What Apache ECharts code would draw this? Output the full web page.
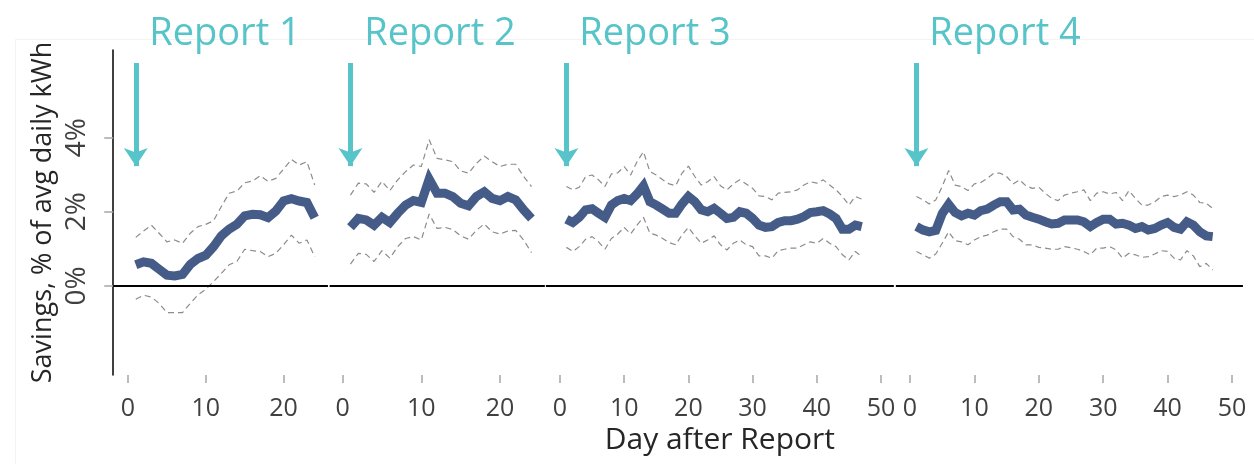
<!DOCTYPE html>
<html>
<head>
<meta charset="utf-8">
<script src="https://cdn.jsdelivr.net/npm/echarts@6/dist/echarts.min.js"></script>
<style>
  html, body { margin: 0; padding: 0; background: #fff; }
  #chart { width: 1254px; height: 464px; }
</style>
</head>
<body>
<div id="chart"></div>
<script>
// data (savings, % of avg daily kWh)
const reportNames = ['Report 1', 'Report 2', 'Report 3', 'Report 4']
const xTicksShort = [0, 10, 20]
const xTicksLong = [0, 10, 20, 30, 40, 50]
const yTicks = [0, 2, 4]
const reportDay = 1

const daysShort = [1, 2, 3, 4, 5, 6, 7, 8, 9, 10, 11, 12, 13, 14, 15, 16, 17, 18, 19, 20, 21, 22, 23, 24]
const daysLong = [1, 2, 3, 4, 5, 6, 7, 8, 9, 10, 11, 12, 13, 14, 15, 16, 17, 18, 19, 20, 21, 22, 23, 24,
  25, 26, 27, 28, 29, 30, 31, 32, 33, 34, 35, 36, 37, 38, 39, 40, 41, 42, 43, 44, 45, 46, 47]

const mean1 = [0.57, 0.65, 0.61, 0.45, 0.29, 0.27, 0.31, 0.58, 0.74, 0.83, 1.06, 1.35, 1.53, 1.66, 1.89, 1.93, 1.92, 1.84, 2.02, 2.29, 2.35, 2.29, 2.25, 1.84]
const upper1 = [1.31, 1.48, 1.64, 1.42, 1.19, 1.24, 1.15, 1.42, 1.60, 1.66, 1.76, 2.14, 2.50, 2.56, 2.78, 2.83, 2.97, 2.82, 2.90, 3.15, 3.41, 3.26, 3.35, 2.72]
const lower1 = [-0.36, -0.25, -0.30, -0.47, -0.72, -0.72, -0.72, -0.47, -0.24, -0.09, 0.12, 0.34, 0.57, 0.66, 0.99, 0.95, 0.93, 0.79, 0.88, 1.11, 1.37, 1.15, 1.24, 0.79]

const mean2 = [1.58, 1.82, 1.78, 1.64, 1.85, 1.71, 1.96, 2.18, 2.30, 2.25, 2.88, 2.50, 2.50, 2.41, 2.23, 2.16, 2.41, 2.54, 2.36, 2.30, 2.41, 2.32, 2.05, 1.82]
const upper2 = [2.45, 2.77, 2.75, 2.52, 2.82, 2.57, 2.86, 3.08, 3.26, 3.22, 3.94, 3.44, 3.40, 3.35, 3.10, 3.04, 3.30, 3.50, 3.35, 3.22, 3.28, 3.28, 2.95, 2.68]
const lower2 = [0.59, 0.88, 0.85, 0.66, 0.95, 0.75, 1.06, 1.28, 1.33, 1.24, 1.94, 1.55, 1.58, 1.52, 1.35, 1.26, 1.50, 1.67, 1.46, 1.40, 1.48, 1.50, 1.24, 0.90]

const mean3 = [1.80, 1.71, 1.85, 2.05, 2.08, 1.96, 1.85, 2.18, 2.30, 2.36,
  2.30, 2.48, 2.70, 2.27, 2.18, 2.07, 1.96, 1.96, 2.21, 2.41,
  2.27, 2.05, 2.00, 2.09, 1.96, 1.82, 1.85, 2.00, 1.96, 1.82,
  1.64, 1.58, 1.60, 1.71, 1.76, 1.76, 1.80, 1.87, 1.98, 2.00,
  2.03, 1.94, 1.82, 1.53, 1.53, 1.64, 1.60]
const upper3 = [2.68, 2.59, 2.66, 2.95, 2.99, 2.86, 2.68, 3.02, 3.05, 3.22,
  2.99, 3.35, 3.62, 3.08, 2.99, 2.86, 2.75, 2.70, 3.04, 3.23,
  2.95, 2.72, 2.81, 2.95, 2.70, 2.59, 2.75, 2.86, 2.75, 2.63,
  2.43, 2.41, 2.32, 2.50, 2.52, 2.54, 2.59, 2.72, 2.81, 2.77,
  2.86, 2.72, 2.59, 2.41, 2.18, 2.41, 2.34]
const lower3 = [1.04, 0.93, 1.06, 1.26, 1.33, 1.19, 0.99, 1.28, 1.40, 1.58,
  1.40, 1.64, 1.85, 1.42, 1.37, 1.28, 1.17, 1.11, 1.37, 1.58,
  1.35, 1.15, 1.24, 1.35, 1.11, 0.97, 1.15, 1.24, 1.11, 1.06,
  0.81, 0.81, 0.75, 0.95, 0.99, 1.02, 1.02, 1.11, 1.19, 1.15,
  1.28, 1.15, 1.06, 0.84, 0.70, 0.93, 0.79]

const mean4 = [1.60, 1.51, 1.46, 1.50, 1.95, 2.20, 1.98, 1.89, 1.96, 1.91,
  2.03, 2.07, 2.18, 2.27, 2.27, 2.05, 2.07, 1.91, 1.85, 1.80,
  1.73, 1.67, 1.69, 1.78, 1.78, 1.78, 1.73, 1.60, 1.71, 1.80,
  1.80, 1.67, 1.69, 1.64, 1.55, 1.60, 1.51, 1.55, 1.64, 1.71,
  1.58, 1.53, 1.73, 1.64, 1.46, 1.35, 1.33]
const upper4 = [2.41, 2.32, 2.21, 2.32, 2.68, 3.11, 2.72, 2.68, 2.57, 2.75,
  2.79, 2.90, 3.04, 3.04, 2.95, 2.75, 2.86, 2.70, 2.63, 2.66,
  2.50, 2.36, 2.30, 2.45, 2.50, 2.54, 2.59, 2.30, 2.50, 2.54,
  2.48, 2.52, 2.30, 2.57, 2.36, 2.18, 2.18, 2.27, 2.41, 2.45,
  2.41, 2.45, 2.54, 2.45, 2.25, 2.23, 2.09]
const lower4 = [0.93, 0.84, 0.75, 0.86, 1.15, 1.46, 1.22, 1.19, 1.11, 1.24,
  1.33, 1.37, 1.46, 1.53, 1.53, 1.33, 1.26, 1.11, 1.11, 1.04,
  1.02, 0.99, 0.99, 1.06, 1.03, 0.99, 0.93, 0.84, 1.02, 1.02,
  1.06, 0.97, 0.75, 0.88, 0.84, 0.77, 0.79, 0.86, 0.95, 0.93,
  0.75, 0.70, 0.95, 0.81, 0.52, 0.61, 0.43]

const font = "'Open Sans', sans-serif"
const cyan = '#56C4C8'
const navy = '#465C88'

// layout of the four panels: pixel of day 0, px per day, axis range
const yMin = -2.4
const yMax = 6.36
const gridTop = 50
const gridHeight = 325
const panels = [
  { days: daysShort, mean: mean1, upper: upper1, lower: lower1, ticks: xTicksShort, x0: 128, unit: 7.78, min: -1.9, max: 25.7, titleX: 225 },
  { days: daysShort, mean: mean2, upper: upper2, lower: lower2, ticks: xTicksShort, x0: 342.6, unit: 7.87, min: -1.65, max: 25.7, titleX: 440 },
  { days: daysLong, mean: mean3, upper: upper3, lower: lower3, ticks: xTicksLong, x0: 560, unit: 6.42, min: -2.2, max: 52, titleX: 655 },
  { days: daysLong, mean: mean4, upper: upper4, lower: lower4, ticks: xTicksLong, x0: 910, unit: 6.44, min: -2.2, max: 51.7, titleX: 1005 }
]

function pairs(days, vals) {
  return days.map((d, i) => [d, vals[i]])
}

const grid = []
const xAxis = []
const yAxis = []
const series = []
const title = []

panels.forEach((p, i) => {
  grid.push({
    left: p.x0 + p.min * p.unit,
    width: (p.max - p.min) * p.unit,
    top: gridTop,
    height: gridHeight,
    containLabel: false,
    outerBoundsMode: 'none'
  })
  xAxis.push({
    gridIndex: i,
    type: 'value',
    min: p.min,
    max: p.max,
    position: 'bottom',
    name: i === 2 ? 'Day after Report' : '',
    nameLocation: 'middle',
    nameGap: 50,
    nameTextStyle: { fontFamily: font, fontSize: 30, color: '#262626' },
    axisLine: { show: false, onZero: false },
    axisTick: { show: true, customValues: p.ticks, length: 8, lineStyle: { color: '#a6a6a6', width: 1.5 } },
    axisLabel: { customValues: p.ticks, margin: 21, fontFamily: font, fontSize: 25, color: '#404040' },
    splitLine: { show: false }
  })
  yAxis.push({
    gridIndex: i,
    type: 'value',
    min: yMin,
    max: yMax,
    show: i === 0,
    name: i === 0 ? 'Savings, % of avg daily kWh' : '',
    nameLocation: 'middle',
    nameGap: 56,
    nameTextStyle: { fontFamily: font, fontSize: 27, color: '#262626' },
    axisLine: { show: true, onZero: false, lineStyle: { color: '#000', width: 1.5 } },
    axisTick: { show: true, customValues: yTicks, length: 9, lineStyle: { color: '#a6a6a6', width: 1.5 } },
    axisLabel: { customValues: yTicks, rotate: 90, margin: 22, formatter: '{value}%', fontFamily: font, fontSize: 28, color: '#404040' },
    splitLine: { show: false }
  })
  title.push({
    text: reportNames[i],
    left: p.titleX,
    top: 15,
    padding: 0,
    textAlign: 'center',
    textStyle: { fontFamily: font, fontSize: 38, fontWeight: 'normal', color: cyan }
  })

  series.push({
    type: 'line',
    xAxisIndex: i,
    yAxisIndex: i,
    data: pairs(p.days, p.lower),
    symbol: 'none',
    lineStyle: { color: '#8c8c8c', width: 1.2, type: [6, 4] },
    z: 2,
    markLine: {
      silent: true,
      symbol: 'none',
      label: { show: false },
      lineStyle: { color: '#000', width: 2, type: 'solid' },
      data: [{ yAxis: 0 }]
    }
  })
  series.push({
    type: 'line',
    xAxisIndex: i,
    yAxisIndex: i,
    data: pairs(p.days, p.upper),
    symbol: 'none',
    lineStyle: { color: '#8c8c8c', width: 1.2, type: [6, 4] },
    z: 2
  })
  series.push({
    type: 'line',
    xAxisIndex: i,
    yAxisIndex: i,
    data: pairs(p.days, p.mean),
    symbol: 'none',
    lineStyle: { color: navy, width: 9, join: 'miter' },
    z: 3,
    markLine: {
      silent: true,
      symbol: ['none', 'arrow'],
      symbolSize: 18,
      label: { show: false },
      lineStyle: { color: cyan, width: 5, type: 'solid' },
      data: [[{ coord: [reportDay, 6.01] }, { coord: [reportDay, 3.23] }]]
    }
  })
})

const chart = echarts.init(document.getElementById('chart'))
chart.setOption({
  animation: false,
  backgroundColor: '#fff',
  textStyle: { fontFamily: font },
  title: title,
  graphic: [{
    type: 'rect',
    shape: { x: 15.5, y: 39.5, width: 1260, height: 440 },
    style: { fill: 'none', stroke: '#f3f3f3', lineWidth: 1 },
    silent: true,
    z: -1
  }],
  grid: grid,
  xAxis: xAxis,
  yAxis: yAxis,
  series: series
})
</script>
</body>
</html>
